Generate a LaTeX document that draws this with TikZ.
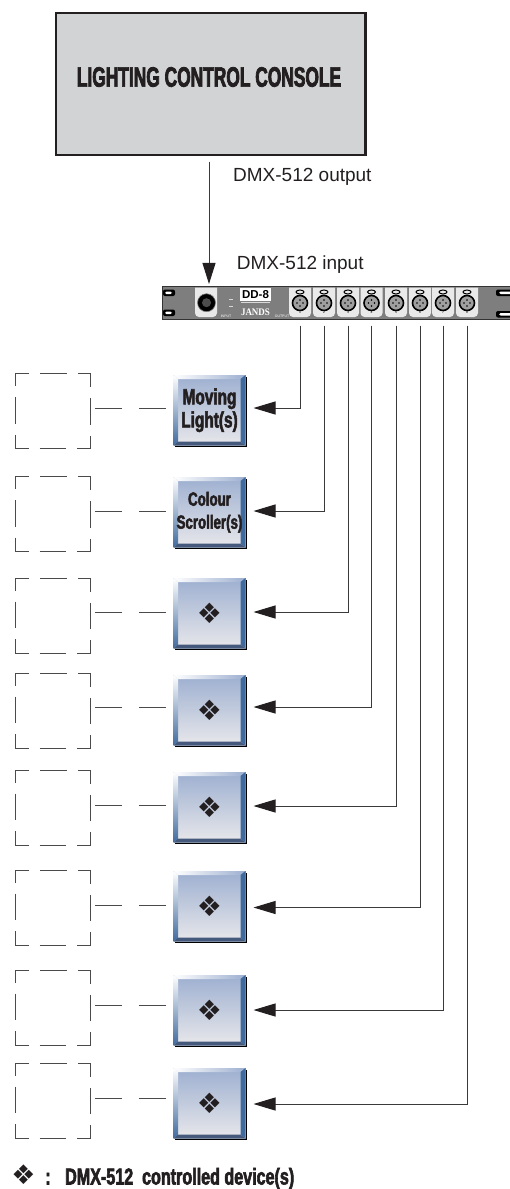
\documentclass[tikz,border=0pt]{standalone}
\usepackage{fontspec}
\setmainfont{Liberation Sans}
\newfontfamily\consolefont[FakeStretch=0.62,BoldFeatures={FakeBold=2.5}]{Liberation Sans}
\newfontfamily\devicefont[FakeStretch=0.70,BoldFeatures={FakeBold=2.5}]{Liberation Sans}
\newfontfamily\symfont{DejaVu Sans}
\newfontfamily\logofont[FakeStretch=0.9]{Liberation Serif}
\usetikzlibrary{positioning,arrows.meta,shadows}
\definecolor{consolegray}{HTML}{D1D3D4}
\definecolor{ink}{HTML}{231F20}
\definecolor{wiregray}{HTML}{3A3A3A}
\definecolor{dashgray}{HTML}{4A4A4A}
\definecolor{facetop}{HTML}{9DAFD0}
\definecolor{facebottom}{HTML}{E8E8EB}
\definecolor{steel}{HTML}{3F6A9E}
\definecolor{steeldark}{HTML}{44597C}
\definecolor{rackgray}{HTML}{7E7E7E}
\definecolor{panelgray}{HTML}{E9E9E9}

\begin{document}
\begin{tikzpicture}
[x=1pt,y=-1pt,
devicebox/.style={rectangle,inner sep=0pt,outer sep=0pt,minimum width=72pt,
  minimum height=70.5pt,align=center,text=ink,top color=facetop,bottom color=facebottom,
  general shadow={fill=black,shadow xshift=1.5pt,shadow yshift=-1.5pt},
  path picture={
    \coordinate (nw) at (path picture bounding box.north west);
    \coordinate (ne) at (path picture bounding box.north east);
    \coordinate (sw) at (path picture bounding box.south west);
    \coordinate (se) at (path picture bounding box.south east);
    \coordinate (inw) at ([shift={(4.5pt,-4pt)}]nw);
    \coordinate (ine) at ([shift={(-5pt,-4pt)}]ne);
    \coordinate (isw) at ([shift={(4.5pt,4pt)}]sw);
    \coordinate (ise) at ([shift={(-5pt,4pt)}]se);
    \shade[left color=white,right color=facetop] (nw) -- (ne) -- (ine) -- (inw) -- cycle;
    \shade[top color=white,bottom color=steel] (nw) -- (inw) -- (isw) -- (sw) -- cycle;
    \fill[steel] (ne) -- (se) -- (ise) -- (ine) -- cycle;
    \fill[steeldark] (sw) -- (se) -- (ise) -- (isw) -- cycle;
  }},
dashframe/.style={rectangle,draw=dashgray,line width=1pt,inner sep=0pt,outer sep=0pt,
  minimum width=75.5pt,minimum height=75pt,dash pattern=on 26.5pt off 11pt,dash phase=13pt},
feedline/.style={draw=dashgray,line width=1pt,dash pattern=on 26.5pt off 17.6pt,
  shorten <=4.5pt,shorten >=7.5pt},
wire/.style={draw=wiregray,line width=1pt,shorten >=8pt,
  -{Triangle[length=22pt,width=13pt,color=ink]}},
xlr/.style={circle,draw=black,line width=1.6pt,fill=gray!75,inner sep=0pt,outer sep=0pt,minimum size=15pt,
  path picture={
    \fill[black] ([shift={(0pt,3pt)}]path picture bounding box.center) circle (0.9pt);
    \fill[black] ([shift={(-3pt,0pt)}]path picture bounding box.center) circle (0.9pt);
    \fill[black] ([shift={(3pt,0pt)}]path picture bounding box.center) circle (0.9pt);
    \fill[black] ([shift={(0pt,-3pt)}]path picture bounding box.center) circle (0.9pt);
  }},
portnum/.style={font=\fontsize{3.5}{4}\selectfont,inner sep=0.5pt,text=black},
tinylabel/.style={font=\fontsize{3.5}{4}\selectfont,inner sep=0pt,text=white},
sidelabel/.style={font=\fontsize{19}{21}\selectfont,text=ink,inner sep=0pt,anchor=base west},
movingtext/.style={font=\devicefont\bfseries\fontsize{22}{23}\selectfont},
scrollertext/.style={font=\devicefont\bfseries\fontsize{19}{23}\selectfont},
symboltext/.style={font=\symfont\fontsize{28}{28}\selectfont},
legendtext/.style={font=\devicefont\bfseries\fontsize{23}{24}\selectfont,text=ink,inner sep=0pt}]
\useasboundingbox (0,0) rectangle (509,1189);

\node[draw=ink,line width=2.2pt,fill=consolegray,inner sep=0pt,outer sep=0pt,
  minimum width=309.5pt,minimum height=141.8pt](console) at (210.8,83.7){};
\node[font=\consolefont\bfseries\fontsize{28}{30}\selectfont,text=ink,inner sep=0pt](consoletext) at (209,77){LIGHTING CONTROL CONSOLE};
\node[sidelabel](outputlabel) at (233,181.7){DMX-512 output};
\node[sidelabel](inputlabel) at (236.7,269){DMX-512 input};

\node[draw=black!80,line width=1pt,fill=rackgray,inner sep=0pt,outer sep=0pt,
  minimum width=349pt,minimum height=32.5pt](rack) at (336.5,303.2){};
\fill[black,rounded corners=2pt] (163,289.5) rectangle (175,296);
\fill[black,rounded corners=2pt] (163,309.5) rectangle (175,316);
\fill[white,rounded corners=1.5pt] (165,291.5) rectangle (172,294);
\fill[white,rounded corners=1.5pt] (165,311.5) rectangle (172,314);
\fill[black,rounded corners=2pt] (496,289.5) rectangle (512,296);
\fill[black,rounded corners=2pt] (496,311) rectangle (512,317.5);
\fill[white,rounded corners=1.5pt] (499,291.5) rectangle (512,294);
\fill[white,rounded corners=1.5pt] (499,313) rectangle (512,315.5);
\fill[panelgray] (195,287.5) [rounded corners=4pt] -- (195,317) -- (217,317) [sharp corners] -- (217,287.5) -- cycle;
\foreach \x in {300,324,348,371.5,396,420,443,467}{
  \fill[panelgray] ({\x-11},287.5) [rounded corners=4pt] -- ({\x-11},317) -- ({\x+11},317) [sharp corners] -- ({\x+11},287.5) -- cycle;
  \draw[black,line width=1pt] (\x,292) ellipse (4pt and 2pt);
}
\node[circle,fill=black,draw=gray,line width=0.6pt,inner sep=0pt,minimum size=18pt](inputjack) at (206.5,302.7){};
\node[circle,fill=black!70,inner sep=0pt,minimum size=9pt](inputpins) at (206.5,302.7){};
\node[fill=white,inner sep=0pt,minimum width=31pt,minimum height=12.5pt,
  font=\bfseries\fontsize{11.5}{12}\selectfont](modelname) at (255.5,294.5){DD-8};
\node[font=\logofont\bfseries\fontsize{10}{10}\selectfont,text=white,inner sep=0pt](logoname) at (255.5,312.5){JANDS};
\node[tinylabel](inputtag) at (226,316){INPUT};
\node[tinylabel](outputtag) at (282,316){OUTPUT};
\draw[white!85!black,line width=0.5pt] (241,302.5) -- (270,302.5);
\draw[white!85!black,line width=0.5pt] (229,299) -- (233,299);
\draw[white!85!black,line width=0.5pt] (229,306) -- (233,306);

\node[xlr,label={[portnum]below:1}](port1) at (300,303){};
\node[xlr,label={[portnum]below:2},right=9pt of port1](port2){};
\node[xlr,label={[portnum]below:3},right=9pt of port2](port3){};
\node[xlr,label={[portnum]below:4},right=8.5pt of port3](port4){};
\node[xlr,label={[portnum]below:5},right=9.5pt of port4](port5){};
\node[xlr,label={[portnum]below:6},right=9pt of port5](port6){};
\node[xlr,label={[portnum]below:7},right=8pt of port6](port7){};
\node[xlr,label={[portnum]below:8},right=9pt of port7](port8){};

\node[devicebox,movingtext](dev1) at (209.5,410.25){Moving\\Light(s)};
\node[devicebox,scrollertext,below=31.5pt of dev1](dev2){Colour\\Scroller(s)};
\node[devicebox,symboltext,below=30.5pt of dev2](dev3){❖};
\node[devicebox,symboltext,below=26.5pt of dev3](dev4){❖};
\node[devicebox,symboltext,below=26.5pt of dev4](dev5){❖};
\node[devicebox,symboltext,below=28.5pt of dev5](dev6){❖};
\node[devicebox,symboltext,below=33.5pt of dev6](dev7){❖};
\node[devicebox,symboltext,below=22.5pt of dev7](dev8){❖};

\node[dashframe](frame1) at (52.8,411){};
\node[dashframe,below=28.2pt of frame1](frame2){};
\node[dashframe,below=26.3pt of frame2](frame3){};
\node[dashframe,below=20pt of frame3](frame4){};
\node[dashframe,below=22pt of frame4](frame5){};
\node[dashframe,below=25pt of frame5](frame6){};
\node[dashframe,below=25pt of frame6](frame7){};
\node[dashframe,below=18pt of frame7](frame8){};

\draw[feedline] (frame1.east |- 0,408) -- (dev1.west |- 0,408);
\draw[feedline] (frame2.east |- 0,511) -- (dev2.west |- 0,511);
\draw[feedline] (frame3.east |- 0,612.5) -- (dev3.west |- 0,612.5);
\draw[feedline] (frame4.east |- 0,707) -- (dev4.west |- 0,707);
\draw[feedline] (frame5.east |- 0,805) -- (dev5.west |- 0,805);
\draw[feedline] (frame6.east |- 0,905) -- (dev6.west |- 0,905);
\draw[feedline] (frame7.east |- 0,1005) -- (dev7.west |- 0,1005);
\draw[feedline] (frame8.east |- 0,1098) -- (dev8.west |- 0,1098);

\coordinate (feed) at (209,0);
\draw[draw=wiregray,line width=1pt,shorten <=7pt,shorten >=3pt,
  -{Triangle[length=21pt,width=13pt,color=ink]}] (console.south -| feed) -- (rack.north -| feed);
\draw[wire,shorten <=15pt] (port1.south) |- (dev1.east |- 0,408);
\draw[wire,shorten <=15pt] (port2.south) |- (dev2.east |- 0,511);
\draw[wire,shorten <=15pt] (port3.south) |- (dev3.east |- 0,612);
\draw[wire,shorten <=15pt] (port4.south) |- (dev4.east |- 0,707);
\draw[wire,shorten <=15pt] (port5.south) |- (dev5.east |- 0,806);
\draw[wire,shorten <=15pt] (port6.south) |- (dev6.east |- 0,907.5);
\draw[wire,shorten <=15pt] (port7.south) |- (dev7.east |- 0,1010);
\draw[wire,shorten <=15pt] (port8.south) |- (dev8.east |- 0,1104);

\node[font=\symfont\fontsize{27}{27}\selectfont,text=ink,inner sep=0pt](legendsym) at (23.5,1174.5){❖};
\node[legendtext,anchor=base](legendcolon) at (48,1184.5){:};
\node[legendtext,anchor=base west](legenddevices) at (65,1184.5){DMX-512~~controlled device(s)};
\end{tikzpicture}
\end{document}
